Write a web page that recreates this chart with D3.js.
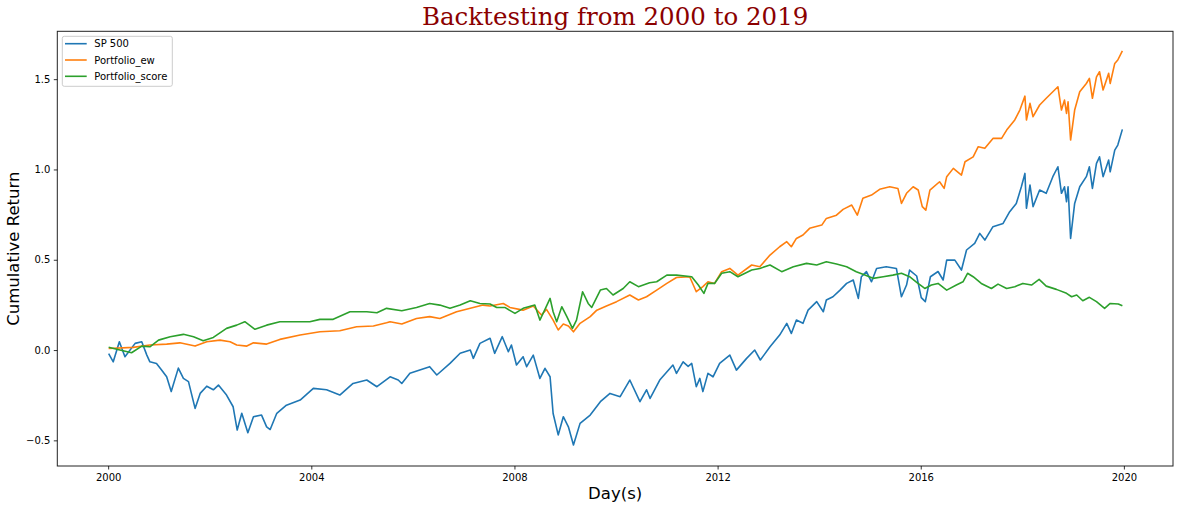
<!DOCTYPE html>
<html>
<head>
<meta charset="utf-8">
<script src="https://cdn.jsdelivr.net/npm/d3@7"></script>
<style>
  html, body { margin: 0; padding: 0; background: #fff; }
  svg { display: block; }
</style>
</head>
<body>
<svg id="chart" width="1180" height="509"></svg>
<script>
// ---------------- DATA ----------------
const seriesNames = ["SP 500", "Portfolio_ew", "Portfolio_score"];

const spYears = [2000.01,2000.10,2000.22,2000.33,2000.53,2000.66,2000.76,2000.82,2000.95,2001.05,2001.15,2001.24,2001.38,2001.48,2001.58,2001.71,2001.81,2001.94,2002.07,2002.17,2002.33,2002.46,2002.54,2002.63,2002.75,2002.86,2003.02,2003.12,2003.19,2003.32,2003.51,2003.78,2004.04,2004.30,2004.56,2004.82,2005.09,2005.29,2005.55,2005.71,2005.78,2005.94,2006.33,2006.47,2006.73,2006.93,2007.13,2007.19,2007.32,2007.52,2007.61,2007.76,2007.88,2007.94,2008.04,2008.17,2008.24,2008.37,2008.50,2008.60,2008.70,2008.76,2008.86,2008.96,2009.06,2009.16,2009.29,2009.49,2009.69,2009.88,2010.08,2010.27,2010.47,2010.60,2010.67,2010.86,2011.12,2011.19,2011.32,2011.42,2011.49,2011.58,2011.65,2011.71,2011.81,2011.91,2012.04,2012.24,2012.37,2012.57,2012.73,2012.84,2013.03,2013.22,2013.36,2013.45,2013.55,2013.68,2013.78,2013.95,2014.08,2014.14,2014.27,2014.41,2014.54,2014.67,2014.77,2014.83,2014.93,2015.03,2015.13,2015.32,2015.52,2015.62,2015.72,2015.78,2015.92,2016.01,2016.09,2016.19,2016.34,2016.44,2016.51,2016.67,2016.80,2016.90,2017.06,2017.16,2017.26,2017.42,2017.62,2017.75,2017.88,2017.98,2018.05,2018.08,2018.15,2018.21,2018.34,2018.47,2018.60,2018.70,2018.77,2018.83,2018.87,2018.90,2018.95,2019.03,2019.13,2019.26,2019.32,2019.38,2019.46,2019.52,2019.59,2019.70,2019.73,2019.82,2019.88,2019.97];
const spValues = [-0.02,-0.065,0.046,-0.037,0.037,0.046,-0.028,-0.065,-0.074,-0.11,-0.148,-0.23,-0.10,-0.157,-0.175,-0.323,-0.24,-0.20,-0.22,-0.194,-0.249,-0.314,-0.443,-0.35,-0.458,-0.369,-0.36,-0.425,-0.44,-0.35,-0.305,-0.277,-0.212,-0.22,-0.249,-0.185,-0.166,-0.203,-0.148,-0.166,-0.185,-0.129,-0.092,-0.138,-0.074,-0.018,0.0,-0.046,0.037,0.065,-0.018,0.074,-0.009,0.028,-0.083,-0.037,-0.092,-0.028,-0.157,-0.101,-0.148,-0.351,-0.47,-0.369,-0.425,-0.526,-0.406,-0.36,-0.286,-0.24,-0.258,-0.166,-0.286,-0.22,-0.268,-0.166,-0.083,-0.129,-0.065,-0.09,-0.074,-0.203,-0.157,-0.23,-0.129,-0.148,-0.074,-0.028,-0.111,-0.046,0.0,-0.055,0.018,0.083,0.148,0.092,0.166,0.148,0.221,0.268,0.212,0.277,0.295,0.332,0.369,0.388,0.286,0.406,0.434,0.378,0.452,0.461,0.452,0.295,0.36,0.443,0.41,0.29,0.268,0.406,0.435,0.388,0.498,0.498,0.443,0.554,0.591,0.646,0.609,0.683,0.701,0.766,0.812,0.904,0.978,0.785,0.914,0.794,0.886,0.868,0.96,1.015,0.868,0.904,0.821,0.904,0.618,0.812,0.904,0.96,1.015,0.895,1.034,1.07,0.96,1.052,0.987,1.107,1.135,1.222];

const ewYears = [2000.01,2000.49,2000.82,2001.15,2001.41,2001.71,2001.94,2002.20,2002.40,2002.53,2002.73,2002.86,2003.12,2003.38,2003.78,2004.17,2004.56,2004.89,2005.22,2005.48,2005.55,2005.78,2006.07,2006.33,2006.53,2006.86,2007.13,2007.38,2007.52,2007.78,2007.91,2008.17,2008.37,2008.53,2008.63,2008.76,2008.86,2008.96,2009.06,2009.16,2009.29,2009.49,2009.62,2009.81,2010.01,2010.27,2010.44,2010.60,2010.80,2011.00,2011.19,2011.45,2011.58,2011.71,2011.81,2011.94,2012.08,2012.24,2012.40,2012.67,2012.83,2013.03,2013.22,2013.36,2013.45,2013.55,2013.68,2013.81,2014.05,2014.14,2014.34,2014.47,2014.64,2014.75,2014.86,2015.03,2015.19,2015.39,2015.55,2015.62,2015.72,2015.85,2015.95,2016.03,2016.10,2016.18,2016.37,2016.46,2016.51,2016.64,2016.80,2016.87,2017.03,2017.13,2017.26,2017.42,2017.59,2017.69,2017.85,2017.95,2018.05,2018.08,2018.15,2018.21,2018.34,2018.47,2018.60,2018.70,2018.77,2018.83,2018.87,2018.90,2018.95,2019.03,2019.13,2019.26,2019.32,2019.38,2019.46,2019.52,2019.59,2019.70,2019.73,2019.82,2019.88,2019.97];
const ewValues = [0.009,0.015,0.028,0.033,0.04,0.022,0.046,0.055,0.046,0.028,0.022,0.04,0.033,0.059,0.083,0.101,0.107,0.129,0.133,0.151,0.157,0.144,0.175,0.185,0.175,0.212,0.231,0.249,0.244,0.258,0.236,0.221,0.244,0.194,0.225,0.166,0.111,0.144,0.133,0.101,0.148,0.185,0.221,0.244,0.268,0.305,0.277,0.295,0.332,0.369,0.402,0.406,0.323,0.351,0.378,0.369,0.434,0.452,0.415,0.471,0.461,0.526,0.572,0.6,0.572,0.618,0.637,0.674,0.692,0.729,0.747,0.779,0.803,0.747,0.84,0.858,0.89,0.904,0.895,0.812,0.868,0.904,0.886,0.794,0.775,0.886,0.932,0.895,0.96,1.006,0.969,1.043,1.07,1.126,1.117,1.172,1.172,1.218,1.274,1.329,1.406,1.274,1.366,1.292,1.357,1.394,1.43,1.458,1.329,1.384,1.31,1.375,1.163,1.329,1.43,1.476,1.504,1.394,1.513,1.541,1.44,1.532,1.476,1.587,1.606,1.657];

const scoreYears = [2000.01,2000.23,2000.46,2000.66,2000.82,2000.99,2001.22,2001.48,2001.68,2001.87,2002.07,2002.33,2002.53,2002.69,2002.89,2003.12,2003.38,2003.64,2003.97,2004.17,2004.43,2004.76,2005.09,2005.29,2005.48,2005.78,2006.07,2006.33,2006.53,2006.73,2006.93,2007.13,2007.32,2007.52,2007.65,2007.81,2008.01,2008.17,2008.40,2008.50,2008.60,2008.70,2008.76,2008.83,2008.93,2009.03,2009.14,2009.22,2009.34,2009.45,2009.52,2009.69,2009.81,2009.94,2010.14,2010.27,2010.44,2010.66,2010.80,2011.00,2011.19,2011.49,2011.62,2011.73,2011.81,2011.94,2012.08,2012.24,2012.40,2012.67,2012.83,2013.03,2013.26,2013.49,2013.75,2013.95,2014.14,2014.34,2014.54,2014.73,2014.90,2015.06,2015.26,2015.45,2015.62,2015.78,2015.92,2016.08,2016.21,2016.34,2016.51,2016.70,2016.83,2016.92,2017.03,2017.19,2017.39,2017.52,2017.69,2017.85,2018.01,2018.18,2018.33,2018.47,2018.67,2018.87,2018.97,2019.07,2019.19,2019.32,2019.46,2019.62,2019.73,2019.89,2019.97];
const scoreValues = [0.015,0.0,-0.015,0.022,0.018,0.055,0.074,0.087,0.074,0.052,0.07,0.12,0.138,0.157,0.115,0.138,0.157,0.157,0.157,0.17,0.17,0.212,0.212,0.207,0.231,0.218,0.236,0.258,0.249,0.231,0.249,0.273,0.258,0.255,0.236,0.236,0.203,0.231,0.249,0.166,0.225,0.286,0.212,0.157,0.24,0.185,0.12,0.166,0.323,0.258,0.236,0.332,0.341,0.305,0.341,0.378,0.351,0.373,0.378,0.415,0.415,0.406,0.36,0.314,0.369,0.369,0.425,0.434,0.406,0.443,0.452,0.471,0.434,0.461,0.48,0.471,0.489,0.476,0.461,0.434,0.415,0.397,0.406,0.415,0.425,0.406,0.375,0.341,0.36,0.369,0.332,0.36,0.378,0.425,0.406,0.369,0.341,0.365,0.341,0.351,0.369,0.36,0.391,0.354,0.336,0.314,0.295,0.305,0.273,0.292,0.268,0.231,0.258,0.255,0.245];

const xTickYears = [2000, 2004, 2008, 2012, 2016, 2020];
const yTickValues = [-0.5, 0.0, 0.5, 1.0, 1.5];
const colors = ["#1f77b4", "#ff7f0e", "#2ca02c"];

// ---------------- DRAWING ----------------
const toDate = y => {
  const yr = Math.floor(y);
  const a = Date.UTC(yr, 0, 1), b = Date.UTC(yr + 1, 0, 1);
  return new Date(a + (y - yr) * (b - a));
};

const svg = d3.select("#chart");
const L = 57.3, R = 1173, T = 31.3, B = 466;

const x = d3.scaleUtc().domain([toDate(1998.998), toDate(2020.965)]).range([L, R]);
const y = d3.scaleLinear().domain([-0.642, 1.765]).range([B, T]);

const series = [
  { name: seriesNames[0], years: spYears, values: spValues, color: colors[0] },
  { name: seriesNames[1], years: ewYears, values: ewValues, color: colors[1] },
  { name: seriesNames[2], years: scoreYears, values: scoreValues, color: colors[2] }
];

const line = d3.line().x(d => x(d[0])).y(d => y(d[1]));

series.forEach(s => {
  const pts = s.years.map((yy, i) => [toDate(yy), s.values[i]]);
  svg.append("path")
    .datum(pts)
    .attr("d", line)
    .attr("fill", "none")
    .attr("stroke", s.color)
    .attr("stroke-width", 1.6)
    .attr("stroke-linejoin", "round");
});

// frame
svg.append("rect")
  .attr("x", L).attr("y", T).attr("width", R - L).attr("height", B - T)
  .attr("fill", "none").attr("stroke", "#222").attr("stroke-width", 1);

// axes
const xAxis = d3.axisBottom(x)
  .tickValues(xTickYears.map(v => toDate(v)))
  .tickFormat(d3.utcFormat("%Y"))
  .tickSize(3.5).tickPadding(4);
const gx = svg.append("g").attr("transform", `translate(0,${B})`).call(xAxis);
gx.select(".domain").remove();
gx.selectAll("text").attr("font-family", "DejaVu Sans").attr("font-size", 10).attr("fill", "#000");
gx.selectAll("line").attr("stroke", "#000").attr("stroke-width", 0.8);

const yAxis = d3.axisLeft(y)
  .tickValues(yTickValues)
  .tickFormat(d => d.toFixed(1).replace("-", "\u2212"))
  .tickSize(3.5).tickPadding(3.5);
const gy = svg.append("g").attr("transform", `translate(${L},0)`).call(yAxis);
gy.select(".domain").remove();
gy.selectAll("text").attr("font-family", "DejaVu Sans").attr("font-size", 10).attr("fill", "#000");
gy.selectAll("line").attr("stroke", "#000").attr("stroke-width", 0.8);

// title
svg.append("text")
  .attr("x", (L + R) / 2).attr("y", 25)
  .attr("text-anchor", "middle")
  .attr("font-family", "DejaVu Serif")
  .attr("font-size", 24.5)
  .attr("fill", "#8b0000")
  .text("Backtesting from 2000 to 2019");

// axis labels
svg.append("text")
  .attr("x", (L + R) / 2).attr("y", 498.5)
  .attr("text-anchor", "middle")
  .attr("font-family", "DejaVu Sans")
  .attr("font-size", 16.5)
  .attr("fill", "#000")
  .text("Day(s)");

svg.append("text")
  .attr("transform", `translate(19,${(T + B) / 2}) rotate(-90)`)
  .attr("text-anchor", "middle")
  .attr("font-family", "DejaVu Sans")
  .attr("font-size", 16.5)
  .attr("fill", "#000")
  .text("Cumulative Return");

// legend
const lg = svg.append("g");
lg.append("rect")
  .attr("x", 62.3).attr("y", 36.3).attr("width", 110).attr("height", 50)
  .attr("rx", 2).attr("ry", 2)
  .attr("fill", "#fff").attr("fill-opacity", 0.8)
  .attr("stroke", "#cccccc").attr("stroke-width", 1);
series.forEach((s, i) => {
  const ly = 43.7 + i * 16.3;
  lg.append("line")
    .attr("x1", 65).attr("x2", 86.7).attr("y1", ly).attr("y2", ly)
    .attr("stroke", s.color).attr("stroke-width", 1.6);
  lg.append("text")
    .attr("x", 94.3).attr("y", ly + 3.6)
    .attr("font-family", "DejaVu Sans").attr("font-size", 10).attr("fill", "#000")
    .text(s.name);
});
</script>
</body>
</html>
